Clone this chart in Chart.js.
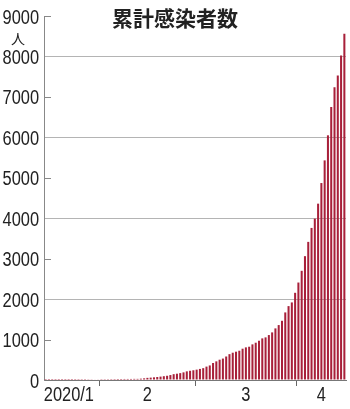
<!DOCTYPE html>
<html>
<head>
<meta charset="utf-8">
<script src="https://cdn.jsdelivr.net/npm/chart.js@4/dist/chart.umd.min.js"></script>
<style>
  body { margin: 0; background: #fff; }
  #wrap { position: relative; width: 350px; height: 409px; }
  #title {
    position: absolute; left: 0; width: 350px; top: 5px; text-align: center;
    font: bold 21px "Noto Sans CJK JP", sans-serif; line-height: 24px; color: #222;
  }
  #unit {
    position: absolute; left: 10px; top: 30px; width: 16px; text-align: center;
    font: 14px "Noto Sans CJK JP", sans-serif; line-height: 16px; color: #222;
  }
</style>
</head>
<body>
<div id="wrap">
  <canvas id="chart" width="350" height="409"></canvas>
  <div id="title">累計感染者数</div>
  <div id="unit">人</div>
</div>
<script>
// 2020/1/15 ~ 4/15 の累計感染者数 (人)
const casesJan = [1, 1, 1, 1, 1, 1, 1, 1, 1, 2, 3, 4, 4, 7, 8, 11, 15];
const casesFeb = [20, 20, 20, 22, 23, 25, 25, 26, 26, 26, 28, 28, 33, 41, 53, 59, 66, 74, 84, 94,
                  105, 122, 144, 156, 170, 189, 214, 228, 241];
const casesMar = [256, 274, 293, 331, 360, 420, 461, 502, 530, 581, 639, 675, 700, 724, 774, 807,
                  823, 881, 922, 971, 1029, 1054, 1111, 1177, 1276, 1358, 1464, 1671, 1827, 1918, 2156];
const casesApr = [2410, 2700, 3062, 3415, 3760, 3990, 4360, 4870, 5430, 6050, 6750, 7240, 7530, 8025, 8560];

const months = [
  { m: 1, first: 15, values: casesJan },
  { m: 2, first: 1, values: casesFeb },
  { m: 3, first: 1, values: casesMar },
  { m: 4, first: 1, values: casesApr }
];
const monthLabels = ['2020/1', '2', '3', '4'];
const yTicks = [0, 1000, 2000, 3000, 4000, 5000, 6000, 7000, 8000, 9000];

const labels = [];
const values = [];
const monthStart = {};   // index -> true where a month begins
const monthRange = [];   // [first index, last index] of each month
months.forEach((mo, k) => {
  const start = labels.length;
  mo.values.forEach((v, d) => {
    labels.push(mo.m + '/' + (mo.first + d));
    values.push(v);
  });
  if (k > 0) monthStart[start] = true;
  monthRange.push([start, labels.length - 1]);
});

// 目盛りの数字は細めの書体なので横に縮めて描く
const squeeze = 0.82;
const labelFont = '20px "Liberation Sans", Arial, sans-serif';

const axisText = {
  id: 'axisText',
  afterDraw(chart) {
    const ctx = chart.ctx;
    const x = chart.scales.x;
    const y = chart.scales.y;
    const area = chart.chartArea;
    ctx.save();

    // 奇数目盛りの内向きの短いひげ
    ctx.strokeStyle = '#888';
    ctx.lineWidth = 1;
    yTicks.forEach(v => {
      if (v % 2000 === 0) return;
      const py = Math.round(y.getPixelForValue(v)) + 0.5;
      ctx.beginPath();
      ctx.moveTo(area.left, py);
      ctx.lineTo(area.left + 7, py);
      ctx.stroke();
    });

    ctx.fillStyle = '#222';
    ctx.font = labelFont;
    ctx.textBaseline = 'alphabetic';

    ctx.textAlign = 'right';
    yTicks.forEach(v => {
      ctx.save();
      ctx.translate(area.left - 5, y.getPixelForValue(v) + 7.5);
      ctx.scale(squeeze, 1);
      ctx.fillText(String(v), 0, 0);
      ctx.restore();
    });

    ctx.textAlign = 'center';
    monthRange.forEach(([a, b], k) => {
      const cx = (x.getPixelForValue(a) + x.getPixelForValue(b)) / 2 - (k === 0 ? 3 : 0);
      ctx.save();
      ctx.translate(cx, area.bottom + 21);
      ctx.scale(squeeze, 1);
      ctx.fillText(monthLabels[k], 0, 0);
      ctx.restore();
    });
    ctx.restore();
  }
};

new Chart(document.getElementById('chart'), {
  type: 'bar',
  data: {
    labels: labels,
    datasets: [{
      data: values,
      backgroundColor: '#a8203a',
      barPercentage: 0.62,
      categoryPercentage: 1
    }]
  },
  options: {
    responsive: false,
    animation: false,
    devicePixelRatio: 1,
    layout: { padding: { top: 16, right: 4, left: 0, bottom: 0 } },
    plugins: { legend: { display: false }, tooltip: { enabled: false } },
    scales: {
      x: {
        offset: true,
        afterFit: s => { s.height = 29; },
        border: { display: true, color: '#777' },
        grid: {
          offset: true,
          drawOnChartArea: false,
          drawTicks: true,
          tickLength: 6,
          color: c => monthStart[c.index] ? '#666' : 'rgba(0,0,0,0)'
        },
        ticks: {
          autoSkip: false,
          maxRotation: 0,
          minRotation: 0,
          padding: 0,
          callback: () => ''
        }
      },
      y: {
        min: 0,
        max: 9000,
        z: 1,
        afterFit: s => { s.width = 44; },
        afterBuildTicks: s => { s.ticks = yTicks.map(v => ({ value: v })); },
        border: { display: true, color: '#888' },
        grid: {
          drawTicks: false,
          color: c => (c.tick && c.tick.value > 0 && c.tick.value % 2000 === 0) ? '#b4b4b4' : 'rgba(0,0,0,0)'
        },
        ticks: {
          padding: 5,
          callback: () => ''
        }
      }
    }
  },
  plugins: [axisText]
});
</script>
</body>
</html>
